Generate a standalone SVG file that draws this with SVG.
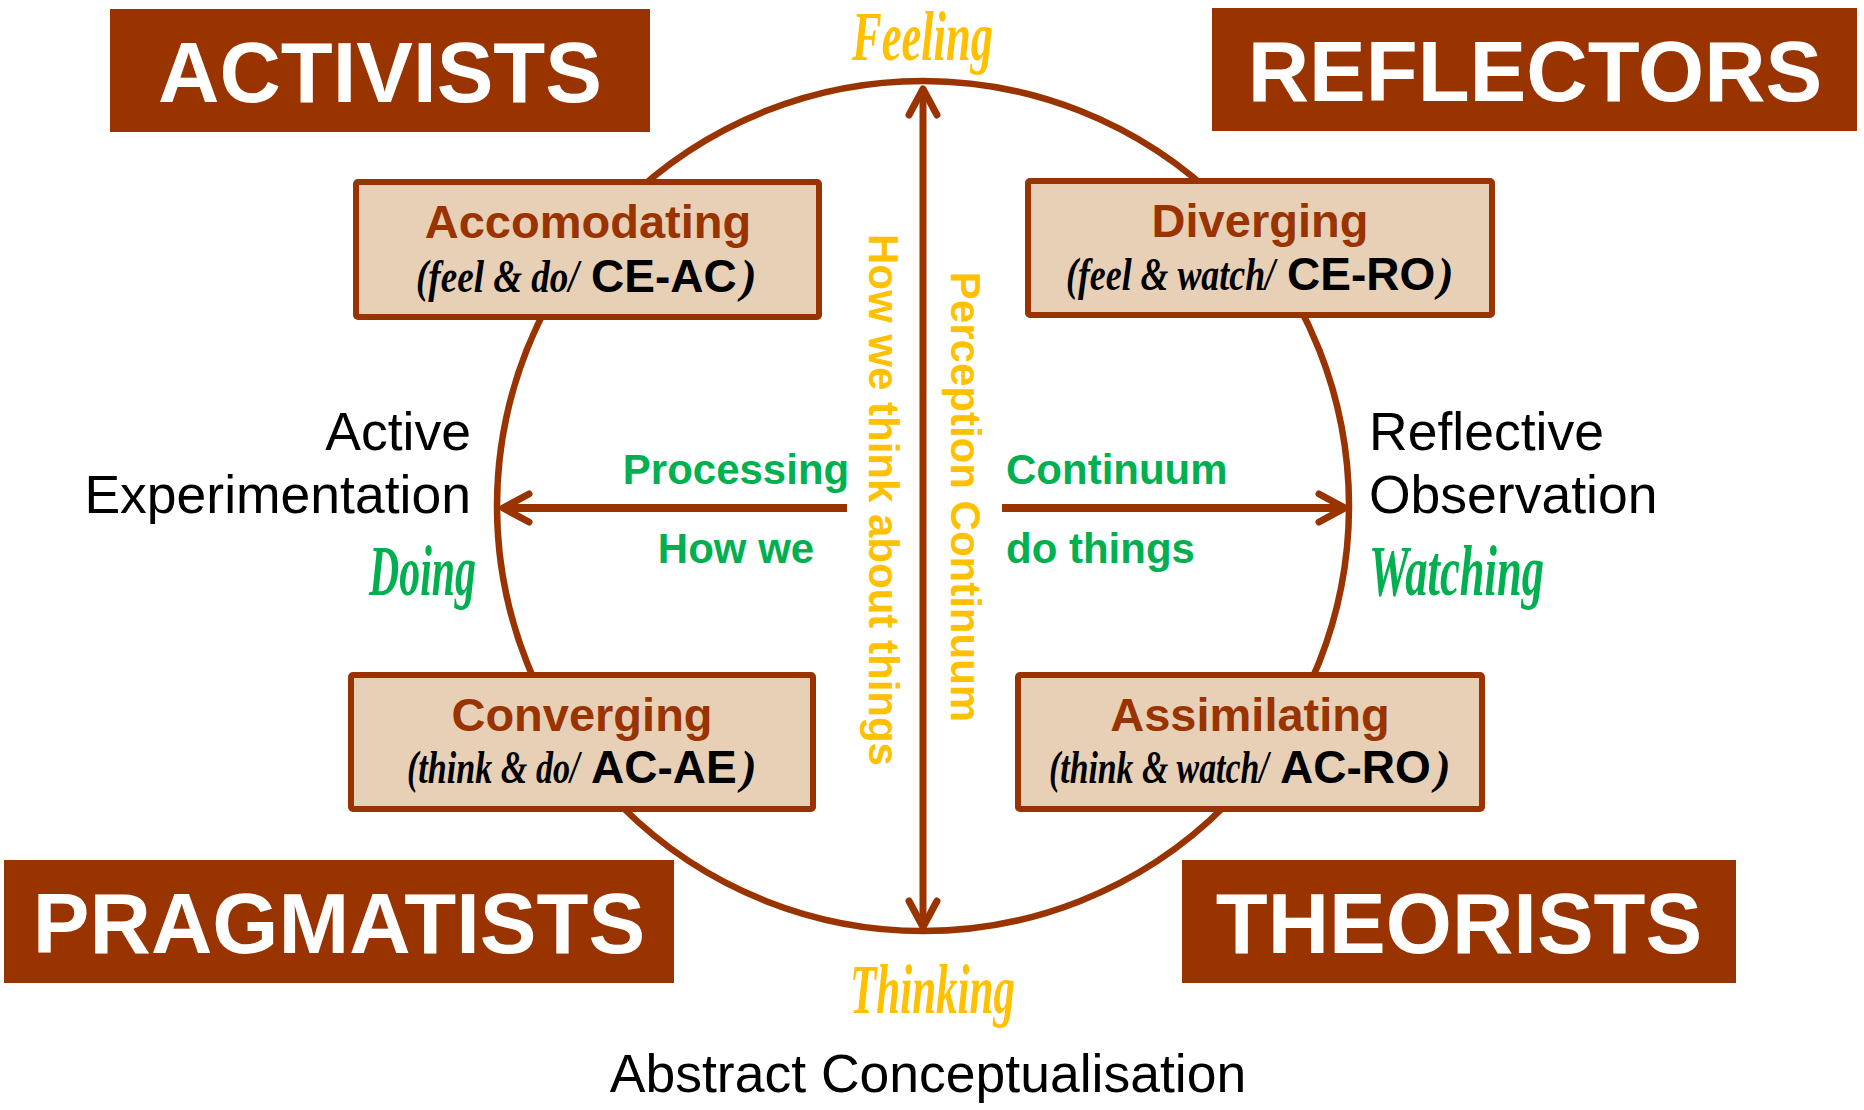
<svg xmlns="http://www.w3.org/2000/svg" width="1864" height="1110" viewBox="0 0 1864 1110">
  <style>
    .title { fill: #993300; }
    .title-text { font-family: "Liberation Sans", Arial, sans-serif; font-weight: bold; font-size: 85px; fill: #ffffff; text-anchor: middle; }
    .style-box { fill: #E8D0B7; stroke: #993300; stroke-width: 6; }
    .style-name { font-family: "Liberation Sans", Arial, sans-serif; font-weight: bold; font-size: 47px; fill: #993300; text-anchor: middle; }
    .code { font-family: "Liberation Sans", Arial, sans-serif; font-style: normal; font-weight: bold; font-size: 46px; fill: #000000; }
    .script { font-family: "Liberation Serif", "DejaVu Serif", serif; font-style: italic; font-weight: bold; }
    .hand-black { font-size: 47px; fill: #000000; }
    .hand-yellow { font-size: 70px; fill: #FFC000; }
    .hand-green { font-size: 72px; fill: #00B050; }
    .pole { font-family: "Liberation Sans", Arial, sans-serif; font-size: 53.5px; fill: #000000; }
    .axis-yellow { font-family: "Liberation Sans", Arial, sans-serif; font-weight: bold; font-size: 42px; fill: #FFC000; }
    .axis-green { font-family: "Liberation Sans", Arial, sans-serif; font-weight: bold; font-size: 42px; fill: #00B050; }
    .cycle { fill: none; stroke: #993300; stroke-width: 6.5; }
    .axis { stroke: #993300; fill: none; }
  </style>
  <defs>
    <marker id="chevron" markerUnits="userSpaceOnUse" viewBox="-40 -25 50 50" refX="0" refY="0" markerWidth="50" markerHeight="50" orient="auto-start-reverse" overflow="visible">
      <path d="M-26,-14 L0,0 L-26,14" fill="none" stroke="#993300" stroke-width="7" stroke-linecap="round" stroke-linejoin="round"/>
    </marker>
  </defs>

  <rect width="1864" height="1110" fill="#ffffff"/>

  <!-- learning cycle -->
  <g id="cycle">
    <ellipse class="cycle" cx="923" cy="506" rx="426" ry="425"/>
  </g>

  <!-- axes -->
  <g id="connectors">
    <line class="axis" x1="923" y1="89" x2="923" y2="927" stroke-width="7" marker-start="url(#chevron)" marker-end="url(#chevron)"/>
    <line class="axis" x1="847" y1="508" x2="503" y2="508" stroke-width="8" marker-end="url(#chevron)"/>
    <line class="axis" x1="1002" y1="508" x2="1345" y2="508" stroke-width="8" marker-end="url(#chevron)"/>
  </g>

  <!-- learner types -->
  <g id="activists">
    <rect class="title" x="110" y="9" width="540" height="123"/>
    <text class="title-text" x="380" y="102">ACTIVISTS</text>
  </g>
  <g id="reflectors">
    <rect class="title" x="1212" y="8" width="645" height="123"/>
    <text class="title-text" x="1535" y="101">REFLECTORS</text>
  </g>
  <g id="pragmatists">
    <rect class="title" x="4" y="860" width="670" height="123"/>
    <text class="title-text" x="339" y="953">PRAGMATISTS</text>
  </g>
  <g id="theorists">
    <rect class="title" x="1182" y="860" width="554" height="123"/>
    <text class="title-text" x="1459" y="953">THEORISTS</text>
  </g>

  <!-- learning styles -->
  <g id="accomodating">
    <rect class="style-box" x="356" y="182" width="463" height="135" rx="2"/>
    <text class="style-name" x="588" y="238">Accomodating</text>
    <text y="292"><tspan class="script hand-black" x="416" textLength="172" lengthAdjust="spacingAndGlyphs">(feel &amp; do/ </tspan><tspan class="code" x="591">CE-AC</tspan><tspan class="script hand-black" x="741">)</tspan></text>
  </g>
  <g id="diverging">
    <rect class="style-box" x="1028" y="181" width="464" height="134" rx="2"/>
    <text class="style-name" x="1260" y="237">Diverging</text>
    <text y="290"><tspan class="script hand-black" x="1066" textLength="218" lengthAdjust="spacingAndGlyphs">(feel &amp; watch/ </tspan><tspan class="code" x="1287">CE-RO</tspan><tspan class="script hand-black" x="1438">)</tspan></text>
  </g>
  <g id="converging">
    <rect class="style-box" x="351" y="675" width="462" height="134" rx="2"/>
    <text class="style-name" x="582" y="731">Converging</text>
    <text y="783"><tspan class="script hand-black" x="407" textLength="181" lengthAdjust="spacingAndGlyphs">(think &amp; do/ </tspan><tspan class="code" x="591">AC-AE</tspan><tspan class="script hand-black" x="741">)</tspan></text>
  </g>
  <g id="assimilating">
    <rect class="style-box" x="1018" y="675" width="464" height="134" rx="2"/>
    <text class="style-name" x="1250" y="731">Assimilating</text>
    <text y="783"><tspan class="script hand-black" x="1049" textLength="228" lengthAdjust="spacingAndGlyphs">(think &amp; watch/ </tspan><tspan class="code" x="1280">AC-RO</tspan><tspan class="script hand-black" x="1435">)</tspan></text>
  </g>

  <!-- poles of the two continua -->
  <g id="feeling">
    <text class="script hand-yellow" x="852" y="60" textLength="141" lengthAdjust="spacingAndGlyphs">Feeling</text>
  </g>
  <g id="thinking">
    <text class="script hand-yellow" x="850" y="1013" textLength="165" lengthAdjust="spacingAndGlyphs">Thinking</text>
    <text class="pole" x="928" y="1092" text-anchor="middle" font-size="54">Abstract Conceptualisation</text>
  </g>
  <g id="doing">
    <text class="pole" x="471" y="450" text-anchor="end">Active</text>
    <text class="pole" x="471" y="513" text-anchor="end">Experimentation</text>
    <text class="script hand-green" x="369" y="595" textLength="107" lengthAdjust="spacingAndGlyphs">Doing</text>
  </g>
  <g id="watching">
    <text class="pole" x="1369" y="450">Reflective</text>
    <text class="pole" x="1369" y="513">Observation</text>
    <text class="script hand-green" x="1369" y="595" textLength="175" lengthAdjust="spacingAndGlyphs">Watching</text>
  </g>

  <!-- continuum labels -->
  <g id="processing-continuum">
    <text class="axis-green" x="736" y="484" text-anchor="middle">Processing</text>
    <text class="axis-green" x="736" y="563" text-anchor="middle">How we</text>
    <text class="axis-green" x="1006" y="484">Continuum</text>
    <text class="axis-green" x="1006" y="563">do things</text>
  </g>
  <g id="perception-continuum">
    <text class="axis-yellow" x="869" y="500" text-anchor="middle" transform="rotate(90 869 500)">How we think about things</text>
    <text class="axis-yellow" x="951" y="497" text-anchor="middle" transform="rotate(90 951 497)">Perception Continuum</text>
  </g>
</svg>
